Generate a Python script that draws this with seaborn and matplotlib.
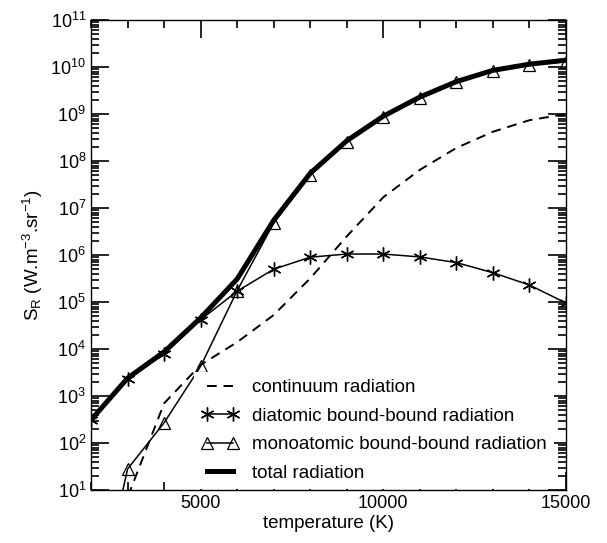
import numpy as np
import pandas as pd
import matplotlib
matplotlib.use("Agg")
import matplotlib.pyplot as plt
import seaborn as sns
from matplotlib.ticker import MultipleLocator, LogLocator, NullFormatter, FixedLocator

temperature = [2000, 3000, 4000, 5000, 6000, 7000, 8000, 9000, 10000, 11000, 12000, 13000, 14000, 15000]
continuum = [1e-2, 7, 700, 4600, 1.4e4, 5.3e4, 3.2e5, 2.5e6, 1.7e7, 6.5e7, 1.9e8, 4.2e8, 7.4e8, 1.0e9]
diatomic = [310, 2300, 7800, 4.2e4, 1.7e5, 5.0e5, 9.0e5, 1.05e6, 1.05e6, 9.1e5, 6.9e5, 4.2e5, 2.3e5, 9.5e4]
monoatomic = [1e-2, 28, 270, 4300, 1.75e5, 4.8e6, 5.0e7, 2.6e8, 8.7e8, 2.2e9, 4.7e9, 8.1e9, 1.1e10, 1.3e10]
total = [310, 2400, 8700, 4.6e4, 3.1e5, 5.5e6, 5.5e7, 2.7e8, 9.0e8, 2.3e9, 4.9e9, 8.5e9, 1.15e10, 1.4e10]
labels = ["continuum radiation", "diatomic bound-bound radiation",
          "monoatomic bound-bound radiation", "total radiation"]

plt.rcParams['font.family'] = ['Liberation Sans', 'DejaVu Sans']
plt.rcParams['mathtext.default'] = 'regular'

fig = plt.figure(figsize=(6.07, 5.43), dpi=100)
ax = fig.add_axes([0.150, 0.0976, 0.7825, 0.8655])

df = pd.DataFrame({"T": temperature, "cont": continuum, "dia": diatomic,
                   "mono": monoatomic, "tot": total})

asterisk = (6, 2, 0)
sns.lineplot(data=df, x="T", y="tot", ax=ax, color="black", lw=3.6,
             label=labels[3], zorder=2)
sns.lineplot(data=df, x="T", y="cont", ax=ax, color="black", lw=1.4,
             linestyle=(0, (5, 3.5)), label=labels[0], zorder=3)
sns.lineplot(data=df, x="T", y="dia", ax=ax, color="black", lw=1.1,
             marker=asterisk, markersize=10, markeredgewidth=1.0,
             markeredgecolor="black", markerfacecolor="black",
             label=labels[1], zorder=3)
sns.lineplot(data=df, x="T", y="mono", ax=ax, color="black", lw=1.1,
             marker="^", markersize=8, markerfacecolor="none",
             markeredgecolor="black", markeredgewidth=0.9,
             label=labels[2], zorder=3)

ax.set_yscale("log")
ax.set_xlim(2000, 15000)
ax.set_ylim(10, 1e11)
ax.xaxis.set_major_locator(FixedLocator([5000, 10000, 15000]))
ax.xaxis.set_minor_locator(MultipleLocator(1000))
ax.yaxis.set_major_locator(LogLocator(base=10, numticks=20))
ax.yaxis.set_minor_locator(LogLocator(base=10, subs=np.arange(2, 10), numticks=200))
ax.yaxis.set_minor_formatter(NullFormatter())

ax.tick_params(which="both", direction="in", top=True, right=True,
               bottom=True, left=True, labelsize=13, width=1.2,
               color="black", labelcolor="black")
ax.tick_params(which="major", length=13)
ax.tick_params(which="minor", length=6)
for s in ax.spines.values():
    s.set_linewidth(1.0)
    s.set_color("black")
ax.set_axisbelow(False)

ax.set_xlabel("temperature (K)", fontsize=13.5, labelpad=2)
ax.set_ylabel("S$_R$ (W.m$^{-3}$.sr$^{-1}$)", fontsize=13.5, labelpad=4)

handles, labs = ax.get_legend_handles_labels()
order = [labs.index(l) for l in labels]
leg = ax.legend([handles[i] for i in order], [labs[i] for i in order],
                loc="lower left", bbox_to_anchor=(0.197, -0.018), fontsize=13.5,
                frameon=True, framealpha=1, edgecolor="white", fancybox=False,
                numpoints=2, handlelength=2.0, handletextpad=0.7,
                labelspacing=0.6, borderpad=0.4)
leg.get_frame().set_linewidth(0)

fig.savefig("out.png", dpi=100)
